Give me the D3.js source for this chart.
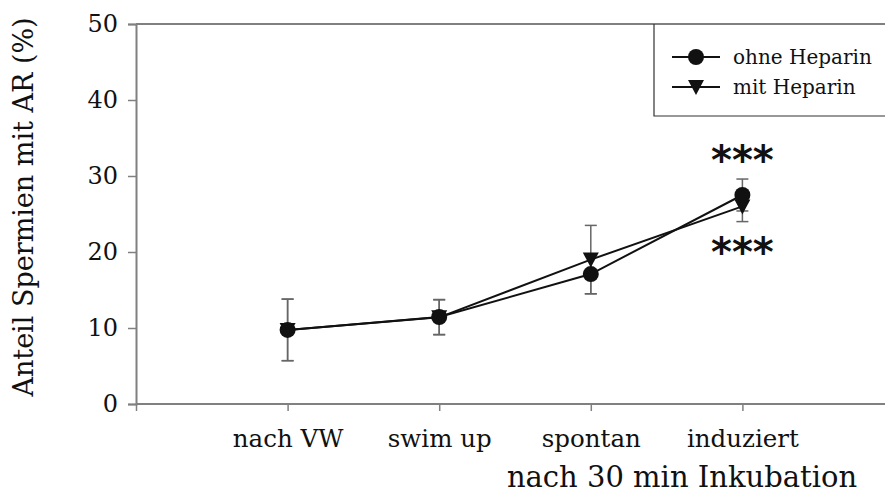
<!DOCTYPE html>
<html><head><meta charset="utf-8">
<script src="https://cdn.jsdelivr.net/npm/d3@7"></script>
<style>body{margin:0;background:#fff}svg{display:block}</style>
</head><body>
<script>
const categories = ["nach VW", "swim up", "spontan", "induziert"];
const ohneHeparin = [9.75, 11.45, 17.1, 27.5];
const ohneErr = [4.05, 2.3, 2.6, 2.1];
const mitHeparin = [9.75, 11.4, 19.0, 26.0];
const mitErr = [4.05, 2.3, 4.5, 2.0];
const yTicks = [0, 10, 20, 30, 40, 50];
const seriesNames = ["ohne Heparin", "mit Heparin"];
const signif = ["***", "***"];

const W = 885, H = 493;
const svg = d3.select("body").append("svg").attr("width", W).attr("height", H);
const FONT = "DejaVu Serif";
const x = d3.scaleLinear().domain([0, 5]).range([136, 894]);
const y = d3.scaleLinear().domain([0, 50]).range([404, 24]);
const axisColor = "#808080";

// top border
svg.append("line").attr("x1", 136).attr("x2", W).attr("y1", y(50)).attr("y2", y(50))
  .attr("stroke", axisColor).attr("stroke-width", 2);

const yAxis = svg.append("g").attr("transform", "translate(136,0)")
  .call(d3.axisLeft(y).tickValues(yTicks).tickSize(8).tickPadding(10));
const xAxis = svg.append("g").attr("transform", `translate(0,${y(0)})`)
  .call(d3.axisBottom(x).tickValues([0, 1, 2, 3, 4]).tickSize(7).tickFormat(d => categories[d - 1] || "").tickPadding(19));
[yAxis, xAxis].forEach(g => {
  g.select(".domain").attr("stroke", axisColor).attr("stroke-width", 2);
  g.selectAll(".tick line").attr("stroke", axisColor).attr("stroke-width", 1.5);
  g.selectAll("text").attr("font-family", FONT).attr("fill", "#111");
});
yAxis.selectAll("text").attr("font-size", 24);
xAxis.selectAll("text").attr("font-size", 24.5);
xAxis.select(".domain").attr("d", `M136,0H${W}`);

// axis titles
svg.append("text").attr("transform", `translate(33,207) rotate(-90)`).attr("text-anchor", "middle")
  .attr("font-family", FONT).attr("font-size", 27).attr("fill", "#111").text("Anteil Spermien mit AR (%)");
svg.append("text").attr("x", 682).attr("y", 487).attr("text-anchor", "middle")
  .attr("font-family", FONT).attr("font-size", 29).attr("fill", "#111").text("nach 30 min Inkubation");

// error bars
function errBars(vals, errs) {
  vals.forEach((v, i) => {
    const cx = x(i + 1);
    const g = svg.append("g").attr("stroke", "#666").attr("stroke-width", 1.5);
    g.append("line").attr("x1", cx).attr("x2", cx).attr("y1", y(v - errs[i])).attr("y2", y(v + errs[i]));
    [v - errs[i], v + errs[i]].forEach(e => g.append("line").attr("x1", cx - 6).attr("x2", cx + 6).attr("y1", y(e)).attr("y2", y(e)));
  });
}
errBars(ohneHeparin, ohneErr);
errBars(mitHeparin, mitErr);

const line = d3.line().x((d, i) => x(i + 1)).y(d => y(d));
[ohneHeparin, mitHeparin].forEach(s => svg.append("path").attr("d", line(s)).attr("fill", "none")
  .attr("stroke", "#111").attr("stroke-width", 2));

const tri = (cx, cy) => `M${cx - 8},${cy - 7}L${cx + 8},${cy - 7}L${cx},${cy + 8}Z`;
mitHeparin.forEach((v, i) => svg.append("path").attr("d", tri(x(i + 1), y(v))).attr("fill", "#111"));
ohneHeparin.forEach((v, i) => svg.append("circle").attr("cx", x(i + 1)).attr("cy", y(v)).attr("r", 8).attr("fill", "#111"));

// significance stars
svg.append("text").attr("x", x(4)).attr("y", 174).attr("text-anchor", "middle").attr("font-family", "DejaVu Sans")
  .attr("font-weight", "bold").attr("font-size", 40).attr("fill", "#111").text(signif[0]);
svg.append("text").attr("x", x(4)).attr("y", 266).attr("text-anchor", "middle").attr("font-family", "DejaVu Sans")
  .attr("font-weight", "bold").attr("font-size", 40).attr("fill", "#111").text(signif[1]);

// legend
const lg = svg.append("g");
lg.append("path").attr("d", `M654,24V116H${W}`).attr("fill", "none").attr("stroke", "#333").attr("stroke-width", 1.2);
const ly = [57, 87];
seriesNames.forEach((n, i) => {
  lg.append("line").attr("x1", 672).attr("x2", 720).attr("y1", ly[i]).attr("y2", ly[i]).attr("stroke", "#111").attr("stroke-width", 2);
  if (i === 0) lg.append("circle").attr("cx", 696).attr("cy", ly[i]).attr("r", 8).attr("fill", "#111");
  else lg.append("path").attr("d", tri(696, ly[i])).attr("fill", "#111");
  lg.append("text").attr("x", 733).attr("y", ly[i] + 7).attr("font-family", FONT).attr("font-size", 20).attr("fill", "#111").text(n);
});
</script>
</body></html>
